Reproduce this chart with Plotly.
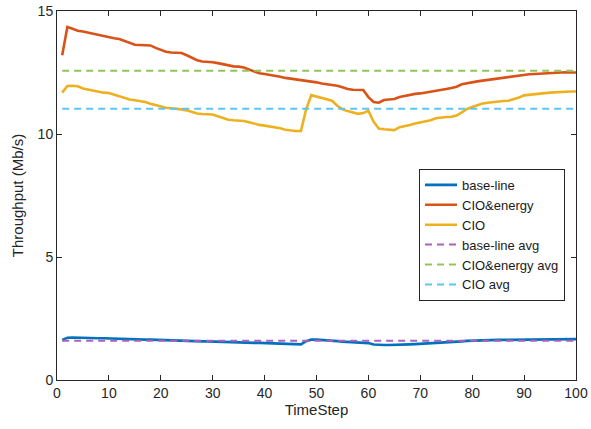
import plotly.graph_objects as go

time_step = list(range(1, 101))

base_line = [
    1.63, 1.72, 1.73, 1.72, 1.72, 1.71, 1.71, 1.70, 1.70, 1.69,
    1.68, 1.67, 1.67, 1.66, 1.65, 1.65, 1.64, 1.64, 1.63, 1.63,
    1.62, 1.62, 1.61, 1.61, 1.60, 1.59, 1.58, 1.57, 1.57, 1.56,
    1.55, 1.55, 1.54, 1.53, 1.53, 1.52, 1.52, 1.51, 1.51, 1.50,
    1.49, 1.49, 1.48, 1.47, 1.46, 1.46, 1.45, 1.58, 1.64, 1.64,
    1.63, 1.62, 1.60, 1.58, 1.56, 1.55, 1.54, 1.53, 1.52, 1.50,
    1.44, 1.42, 1.42, 1.42, 1.42, 1.43, 1.44, 1.45, 1.46, 1.47,
    1.48, 1.49, 1.50, 1.51, 1.52, 1.53, 1.54, 1.57, 1.59, 1.60,
    1.61, 1.62, 1.62, 1.62, 1.63, 1.63, 1.63, 1.64, 1.64, 1.65,
    1.65, 1.65, 1.65, 1.65, 1.66, 1.66, 1.66, 1.66, 1.66, 1.66,
]

cio_energy = [
    13.20, 14.35, 14.28, 14.20, 14.17, 14.12, 14.08, 14.02, 13.97, 13.94,
    13.89, 13.86, 13.78, 13.70, 13.63, 13.62, 13.62, 13.60, 13.50, 13.42,
    13.34, 13.31, 13.30, 13.29, 13.20, 13.10, 13.00, 12.95, 12.94, 12.92,
    12.88, 12.84, 12.78, 12.75, 12.74, 12.70, 12.62, 12.54, 12.47, 12.44,
    12.41, 12.38, 12.33, 12.28, 12.25, 12.22, 12.20, 12.18, 12.16, 12.10,
    12.05, 12.03, 12.00, 11.96, 11.90, 11.83, 11.80, 11.80, 11.79, 11.50,
    11.30, 11.27, 11.38, 11.40, 11.42, 11.50, 11.55, 11.60, 11.63, 11.65,
    11.68, 11.72, 11.76, 11.80, 11.83, 11.87, 11.92, 12.02, 12.07, 12.10,
    12.14, 12.17, 12.20, 12.25, 12.27, 12.29, 12.31, 12.34, 12.38, 12.42,
    12.43, 12.44, 12.45, 12.46, 12.48, 12.50, 12.52, 12.51, 12.50, 12.50,
]

cio = [
    11.68, 11.95, 11.96, 11.94, 11.85, 11.80, 11.78, 11.70, 11.68, 11.67,
    11.60, 11.52, 11.48, 11.40, 11.37, 11.35, 11.30, 11.23, 11.18, 11.10,
    11.07, 11.05, 11.04, 11.00, 10.96, 10.90, 10.83, 10.81, 10.81, 10.79,
    10.72, 10.66, 10.58, 10.56, 10.55, 10.53, 10.48, 10.42, 10.37, 10.34,
    10.31, 10.28, 10.23, 10.17, 10.13, 10.12, 10.12, 11.00, 11.58, 11.53,
    11.48, 11.40, 11.35, 11.15, 11.00, 10.93, 10.88, 10.82, 10.85, 10.95,
    10.50, 10.22, 10.19, 10.17, 10.16, 10.28, 10.31, 10.37, 10.43, 10.47,
    10.51, 10.56, 10.64, 10.68, 10.69, 10.70, 10.75, 10.88, 11.02, 11.10,
    11.17, 11.24, 11.27, 11.30, 11.32, 11.34, 11.35, 11.40, 11.48, 11.57,
    11.60, 11.62, 11.63, 11.66, 11.68, 11.70, 11.72, 11.72, 11.73, 11.73,
]

base_line_avg = 1.60
cio_energy_avg = 12.57
cio_avg = 11.03

x_ticks = [0, 10, 20, 30, 40, 50, 60, 70, 80, 90, 100]
y_ticks = [0, 5, 10, 15]

AX = "#262626"
FONT = "Liberation Sans, Arial, sans-serif"

fig = go.Figure()

solid = [
    ("base-line", base_line, "#0072BD"),
    ("CIO&energy", cio_energy, "#D95319"),
    ("CIO", cio, "#EDB120"),
]
for name, ys, col in solid:
    fig.add_trace(go.Scatter(x=time_step, y=ys, mode="lines", name=name,
                             line=dict(color=col, width=2.6)))

dashed = [
    ("base-line avg", base_line_avg, "#A763BD"),
    ("CIO&energy avg", cio_energy_avg, "#93C35A"),
    ("CIO avg", cio_avg, "#5CC6F2"),
]
for name, v, col in dashed:
    fig.add_trace(go.Scatter(x=time_step, y=[v] * len(time_step), mode="lines", name=name,
                             line=dict(color=col, width=2, dash="7px,5px")))

axis_common = dict(
    showline=True, linecolor=AX, linewidth=1, mirror="ticks",
    ticks="inside", ticklen=5, tickcolor=AX, tickwidth=1,
    showgrid=False, zeroline=False, automargin=False,
    tickfont=dict(family=FONT, size=14, color=AX),
)

fig.update_xaxes(range=[0, 100], tickvals=x_ticks, ticktext=[str(t) for t in x_ticks],
                 title=dict(text="TimeStep", font=dict(family=FONT, size=15, color=AX), standoff=4),
                 **axis_common)
fig.update_yaxes(range=[0, 15], tickvals=y_ticks, ticktext=[str(t) for t in y_ticks],
                 title=dict(text="Throughput (Mb/s)", font=dict(family=FONT, size=15, color=AX), standoff=10),
                 **axis_common)

fig.update_layout(
    width=591, height=429,
    margin=dict(l=57, r=15, t=11, b=49),
    paper_bgcolor="white", plot_bgcolor="white",
    showlegend=True,
    legend=dict(x=0.6975, y=0.572, xanchor="left", yanchor="top",
                bgcolor="white", bordercolor=AX, borderwidth=1,
                font=dict(family=FONT, size=13, color="#1a1a1a"),
                tracegroupgap=0, itemwidth=32,
                entrywidth=112, entrywidthmode="pixels"),
    font=dict(family=FONT, color=AX),
)

fig.write_html(
    "out.html",
    config={"displayModeBar": False},
    post_script="document.body.style.margin='0';document.body.style.overflow='hidden';",
)
